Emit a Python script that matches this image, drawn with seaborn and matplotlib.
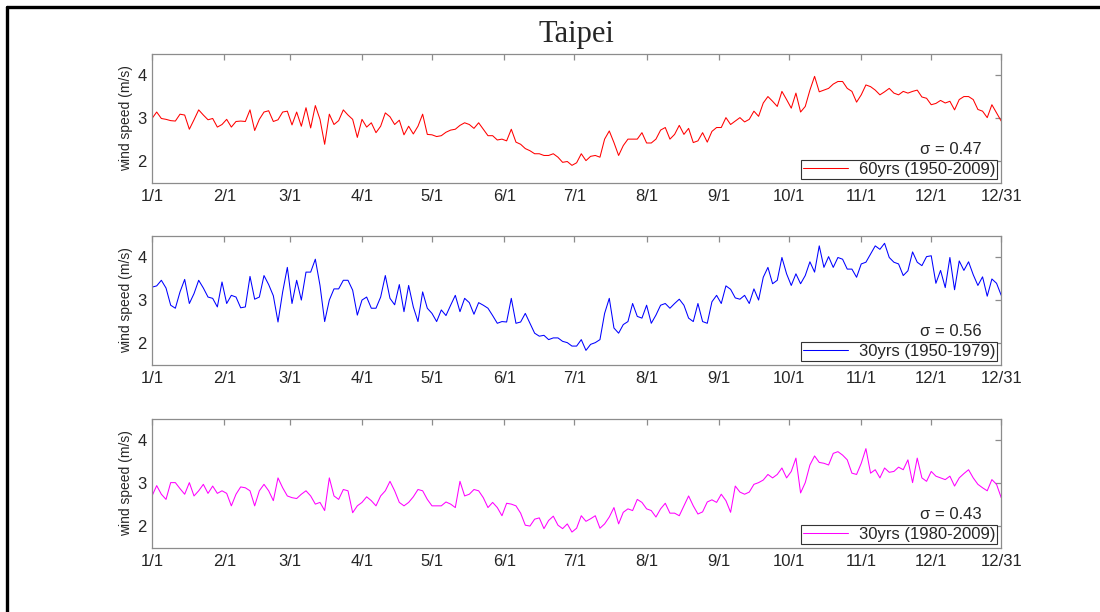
"""
Import packages
"""
import numpy as np
import matplotlib.pyplot as plt
from matplotlib.lines import Line2D
import seaborn as sns

"""
Data: daily mean wind speed at Taipei, read off every second day
"""
days = np.arange(1, 366, 2)
month_ticks = [1, 32, 60, 91, 121, 152, 182, 213, 244, 274, 305, 335, 365]
month_labels = ['1/1', '2/1', '3/1', '4/1', '5/1', '6/1', '7/1', '8/1', '9/1',
                '10/1', '11/1', '12/1', '12/31']

# 60 years, 1950-2009
speed_60yrs = [
    3.0, 3.15, 3.0, 2.98, 2.95, 2.94, 3.1, 3.08, 2.75, 2.97,
    3.2, 3.08, 2.97, 3.0, 2.8, 2.86, 2.98, 2.8, 2.93, 2.94,
    2.93, 3.2, 2.72, 2.98, 3.15, 3.18, 2.93, 2.97, 3.15, 3.17,
    2.85, 3.15, 2.82, 3.25, 2.78, 3.3, 2.98, 2.4, 3.1, 2.86,
    2.95, 3.2, 3.08, 2.98, 2.56, 2.98, 2.8, 2.9, 2.67, 2.82,
    3.13, 3.04, 2.86, 2.96, 2.62, 2.82, 2.64, 2.82,
    3.1, 2.63, 2.62, 2.58, 2.6, 2.68, 2.73, 2.75, 2.84, 2.9,
    2.86, 2.77, 2.9, 2.75, 2.6, 2.6, 2.5, 2.52, 2.48, 2.75,
    2.45, 2.4, 2.3, 2.25, 2.18, 2.18, 2.14, 2.14, 2.18, 2.1,
    1.98, 2.0, 1.91, 1.97, 2.18, 2.02, 2.12, 2.14, 2.1, 2.52,
    2.71, 2.44, 2.14, 2.37, 2.52, 2.52, 2.52, 2.67, 2.43, 2.43,
    2.52, 2.73, 2.79, 2.52, 2.63, 2.84, 2.63, 2.77, 2.44, 2.48,
    2.67, 2.45,
    2.7, 2.79, 2.79, 3.02, 2.86, 2.94, 3.02, 2.92, 2.98, 3.17,
    3.05, 3.36, 3.51, 3.4, 3.28, 3.63, 3.44, 3.24, 3.59, 3.15,
    3.28, 3.66, 3.98, 3.62, 3.66, 3.7, 3.8, 3.86, 3.86, 3.7,
    3.63, 3.38, 3.55, 3.78, 3.74, 3.66, 3.55, 3.62, 3.7, 3.59,
    3.55, 3.63, 3.59, 3.63, 3.66, 3.5, 3.47, 3.32, 3.35, 3.42,
    3.36, 3.4, 3.2, 3.44, 3.51, 3.51, 3.44, 3.21, 3.17, 3.02,
    3.32, 3.13, 2.94,
]

# 30 years, 1950-1979
speed_30yrs_early = [
    3.31, 3.34, 3.47, 3.29, 2.89, 2.82, 3.2, 3.49, 2.93, 3.16,
    3.47, 3.29, 3.08, 3.05, 2.85, 3.43, 2.93, 3.12, 3.08, 2.83,
    2.85, 3.56, 3.03, 3.08, 3.58, 3.37, 3.11, 2.5, 3.2, 3.77,
    2.93, 3.47, 3.01, 3.66, 3.66, 3.96, 3.35, 2.51, 3.01, 3.27,
    3.27, 3.47, 3.47, 3.24, 2.66, 3.01, 3.08, 2.82, 2.82, 3.08,
    3.58, 3.05, 2.9, 3.37, 2.74, 3.35, 2.85, 2.51,
    3.2, 2.82, 2.7, 2.51, 2.78, 2.65, 2.89, 3.12, 2.74, 3.05,
    2.95, 2.68, 2.95, 2.89, 2.82, 2.65, 2.47, 2.51, 2.5, 3.05,
    2.47, 2.5, 2.7, 2.47, 2.24, 2.17, 2.19, 2.09, 2.13, 2.13,
    2.05, 2.02, 1.94, 1.94, 2.09, 1.84, 1.98, 2.02, 2.09, 2.7,
    3.05, 2.36, 2.24, 2.44, 2.51, 2.93, 2.63, 2.59, 2.89, 2.47,
    2.66, 2.89, 2.93, 2.82, 2.93, 3.03, 2.89, 2.59, 2.51, 2.93,
    2.51, 2.47,
    2.97, 3.12, 2.93, 3.34, 3.26, 3.06, 3.03, 3.12, 2.93, 3.27,
    3.01, 3.54, 3.77, 3.39, 3.47, 4.0, 3.62, 3.35, 3.62, 3.39,
    3.58, 3.9, 3.66, 4.27, 3.77, 4.02, 3.77, 4.0, 3.96, 3.73,
    3.73, 3.54, 3.85, 3.89, 4.08, 4.27, 4.19, 4.33, 4.0, 3.89,
    3.85, 3.58, 3.69, 4.13, 3.89, 3.81, 4.02, 4.04, 3.4, 3.7,
    3.3, 4.0, 3.25, 3.92, 3.7, 3.9, 3.6, 3.35, 3.55, 3.1,
    3.5, 3.4, 3.12,
]

# 30 years, 1980-2009
speed_30yrs_late = [
    2.71, 2.95, 2.75, 2.63, 3.02, 3.02, 2.88, 2.75, 3.02, 2.71,
    2.83, 2.98, 2.77, 2.94, 2.77, 2.83, 2.77, 2.48, 2.75, 2.92,
    2.9, 2.83, 2.48, 2.83, 2.98, 2.83, 2.6, 3.13, 2.9, 2.71,
    2.67, 2.65, 2.75, 2.83, 2.71, 2.52, 2.56, 2.37, 3.13, 2.71,
    2.63, 2.86, 2.83, 2.32, 2.48, 2.56, 2.69, 2.6, 2.48, 2.71,
    2.83, 3.05, 2.83, 2.56, 2.48, 2.56, 2.69, 2.86,
    2.83, 2.63, 2.48, 2.48, 2.48, 2.57, 2.52, 2.44, 3.05, 2.71,
    2.75, 2.86, 2.83, 2.67, 2.44, 2.56, 2.44, 2.25, 2.54, 2.52,
    2.48, 2.31, 2.03, 2.01, 2.17, 2.2, 1.95, 2.14, 2.24, 2.03,
    1.95, 2.06, 1.87, 1.96, 2.25, 2.12, 2.18, 2.25, 1.96, 2.06,
    2.22, 2.44, 2.06, 2.33, 2.41, 2.37, 2.63, 2.56, 2.41, 2.37,
    2.22, 2.41, 2.54, 2.31, 2.31, 2.25, 2.48, 2.71, 2.48, 2.29,
    2.34, 2.57,
    2.62, 2.56, 2.75, 2.6, 2.33, 2.94, 2.8, 2.75, 2.8, 2.98,
    3.02, 3.08, 3.21, 3.13, 3.21, 3.36, 3.13, 3.28, 3.59, 2.78,
    3.02, 3.43, 3.64, 3.49, 3.47, 3.43, 3.7, 3.74, 3.66, 3.55,
    3.24, 3.21, 3.47, 3.81, 3.24, 3.32, 3.13, 3.36, 3.26, 3.28,
    3.38, 3.32, 3.55, 3.02, 3.59, 3.13, 3.05, 3.28, 3.17, 3.13,
    3.09, 3.17, 2.94, 3.13, 3.23, 3.32, 3.13, 2.98, 2.9, 2.83,
    3.09, 2.98, 2.67,
]

series = [speed_60yrs, speed_30yrs_early, speed_30yrs_late]
series_labels = ['60yrs (1950-2009)', '30yrs (1950-1979)', '30yrs (1980-2009)']
sigma_values = ['0.47', '0.56', '0.43']
colors = ['red', 'blue', 'magenta']

"""
Plot: three stacked panels
"""
sns.set_style('white')
plt.rcParams['font.family'] = ['Liberation Sans', 'DejaVu Sans']

fig = plt.figure(figsize=(11, 6.12), dpi=100)
bottoms = [0.701, 0.4036, 0.1046]
frame_gray = '#8c8c8c'

for speeds, label, sigma, color, bottom in zip(series, series_labels, sigma_values, colors, bottoms):
    ax = fig.add_axes([0.1382, bottom, 0.772, 0.2108])
    sns.lineplot(x=days, y=speeds, ax=ax, color=color, linewidth=0.75, label=label)
    ax.set_xlim(1, 365)
    ax.set_ylim(1.5, 4.5)
    ax.set_xticks(month_ticks, month_labels)
    ax.set_yticks([2, 3, 4])
    ax.tick_params(direction='in', top=True, right=True, length=4, width=0.9,
                   color=frame_gray, labelsize=12, pad=4)
    for spine in ax.spines.values():
        spine.set_color(frame_gray)
        spine.set_linewidth(0.9)
    ax.set_ylabel('wind speed (m/s)', fontsize=10, labelpad=3)
    ax.text(0.977, 0.26, '\u03c3 = ' + sigma, transform=ax.transAxes,
            ha='right', va='center', fontsize=12)
    leg = ax.legend(loc='lower right', fontsize=12, fancybox=False, framealpha=1,
                    handlelength=2.7, handletextpad=0.65, borderpad=0.12,
                    borderaxespad=0.25)
    leg.get_frame().set_edgecolor('#333333')
    leg.get_frame().set_linewidth(0.8)

fig.text(0.5236, 0.944, 'Taipei', ha='center', va='center',
         family=['Liberation Serif', 'DejaVu Serif'], fontsize=22)

# black frame on the top and left edges of the screenshot
fig.add_artist(Line2D([0.0064, 1], [0.9886, 0.9886], transform=fig.transFigure,
                      color='black', linewidth=2.4))
fig.add_artist(Line2D([0.0064, 0.0064], [0, 0.9886], transform=fig.transFigure,
                      color='black', linewidth=2.4))

plt.savefig('out.png', dpi=100)
plt.close()
